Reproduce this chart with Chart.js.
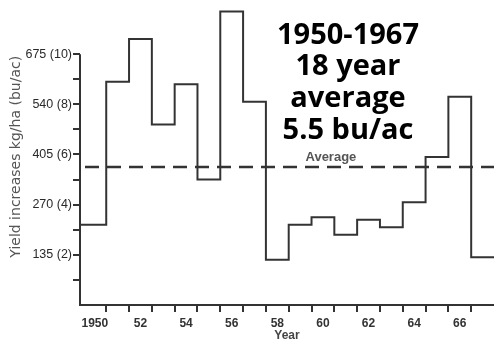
<!DOCTYPE html>
<html>
<head>
<meta charset="utf-8">
<script src="https://cdn.jsdelivr.net/npm/chart.js@4/dist/chart.umd.min.js"></script>
<style>
  body { margin: 0; background: #fff; }
  canvas { display: block; }
</style>
</head>
<body>
<canvas id="chartYield" width="494" height="343"></canvas>
<script>
// yearly yield increase, bu/ac
const years = [1950, 1951, 1952, 1953, 1954, 1955, 1956, 1957, 1958,
               1959, 1960, 1961, 1962, 1963, 1964, 1965, 1966, 1967];
const increases = [3.2, 8.9, 10.6, 7.2, 8.8, 5.0, 11.7, 8.1, 1.8,
                   3.2, 3.5, 2.8, 3.4, 3.1, 4.1, 5.9, 8.3, 1.9];
const average = 5.5;
const kgPerBu = 67.5;
const yTicks = [1, 2, 3, 4, 5, 6, 7, 8, 9, 10];
const yearLabels = [1950, 1952, 1954, 1956, 1958, 1960, 1962, 1964, 1966];
const noteLines = ['1950-1967', '18 year', 'average', '5.5 bu/ac'];

const xMin = 1949.35;
const xMax = 1967.5;
const ink = '#333';

// each year holds from its start edge to the next one
const stepData = years.map((y, i) => ({ x: i === 0 ? xMin : y - 0.5, y: increases[i] }));
stepData.push({ x: xMax, y: increases[increases.length - 1] });

const extras = {
    id: 'extras',
    afterDatasetsDraw(chart) {
        const ctx = chart.ctx;
        const x = chart.scales.x;
        const y = chart.scales.y;
        const area = chart.chartArea;
        ctx.save();
        // y axis line only runs up to the last tick
        ctx.strokeStyle = ink;
        ctx.lineWidth = 2;
        ctx.beginPath();
        ctx.moveTo(area.left, y.getPixelForValue(0) + 1);
        ctx.lineTo(area.left, y.getPixelForValue(10));
        ctx.stroke();

        ctx.fillStyle = '#555';
        ctx.font = 'bold 13px "Liberation Sans", Arial, sans-serif';
        ctx.textAlign = 'center';
        ctx.textBaseline = 'alphabetic';
        ctx.fillText('Average', x.getPixelForValue(1960.35), y.getPixelForValue(average) - 6);

        ctx.fillStyle = '#000';
        ctx.font = 'bold 29px "Open Sans", sans-serif';
        noteLines.forEach((t, i) => {
            ctx.fillText(t, x.getPixelForValue(1961.1), area.top + 35 + i * 31.7);
        });
        ctx.restore();
    }
};

new Chart(document.getElementById('chartYield'), {
    type: 'line',
    data: {
        datasets: [{
            label: 'Yield increase',
            data: stepData,
            stepped: true,
            borderColor: ink,
            borderWidth: 2,
            pointRadius: 0,
            fill: false
        }, {
            label: 'Average',
            data: [{ x: xMin, y: average }, { x: xMax, y: average }],
            borderColor: ink,
            borderWidth: 2.5,
            borderDash: [14, 8],
            borderDashOffset: -5,
            pointRadius: 0,
            fill: false
        }]
    },
    options: {
        responsive: false,
        animation: false,
        layout: { padding: 0 },
        plugins: { legend: { display: false }, tooltip: { enabled: false } },
        scales: {
            x: {
                type: 'linear',
                min: xMin,
                max: xMax,
                afterBuildTicks: s => { s.ticks = years.slice(1).map(v => ({ value: v - 0.5 })); },
                afterFit: s => { s.height = 7; },
                ticks: { display: false },
                grid: { drawOnChartArea: false, tickLength: 7, color: ink, lineWidth: 2 },
                border: { display: true, color: ink, width: 2 }
            },
            x2: {
                type: 'linear',
                position: 'bottom',
                weight: 1,
                min: xMin,
                max: xMax,
                afterBuildTicks: s => { s.ticks = yearLabels.map(v => ({ value: v })); },
                afterFit: s => { s.height = 31; },
                ticks: {
                    autoSkip: false,
                    maxRotation: 0,
                    padding: 4,
                    color: ink,
                    font: { family: '"Liberation Sans", Arial, sans-serif', size: 12, weight: 'bold' },
                    callback: v => v === 1950 ? '1950' : String(v).slice(2)
                },
                grid: { display: false, drawTicks: false },
                border: { display: false },
                title: {
                    display: true,
                    text: 'Year',
                    color: '#444',
                    padding: { top: 0, bottom: 0 },
                    font: { family: '"Liberation Sans", Arial, sans-serif', size: 12, weight: 'bold' }
                }
            },
            y: {
                min: 0,
                max: 11.82,
                afterBuildTicks: s => { s.ticks = yTicks.map(v => ({ value: v })); },
                afterFit: s => { s.width = 80; },
                ticks: {
                    padding: 1,
                    color: '#2a2a2a',
                    font: { family: '"Liberation Sans", Arial, sans-serif', size: 12.5 },
                    callback: v => v % 2 === 0 ? `${v * kgPerBu} (${v})` : ''
                },
                grid: { drawOnChartArea: false, tickLength: 7, color: ink, lineWidth: 2 },
                border: { display: false },
                title: {
                    display: true,
                    text: 'Yield increases kg/ha (bu/ac)',
                    color: '#555',
                    padding: { top: 8, bottom: 0 },
                    font: { family: '"DejaVu Sans", sans-serif', size: 14 }
                }
            }
        }
    },
    plugins: [extras]
});
</script>
</body>
</html>
